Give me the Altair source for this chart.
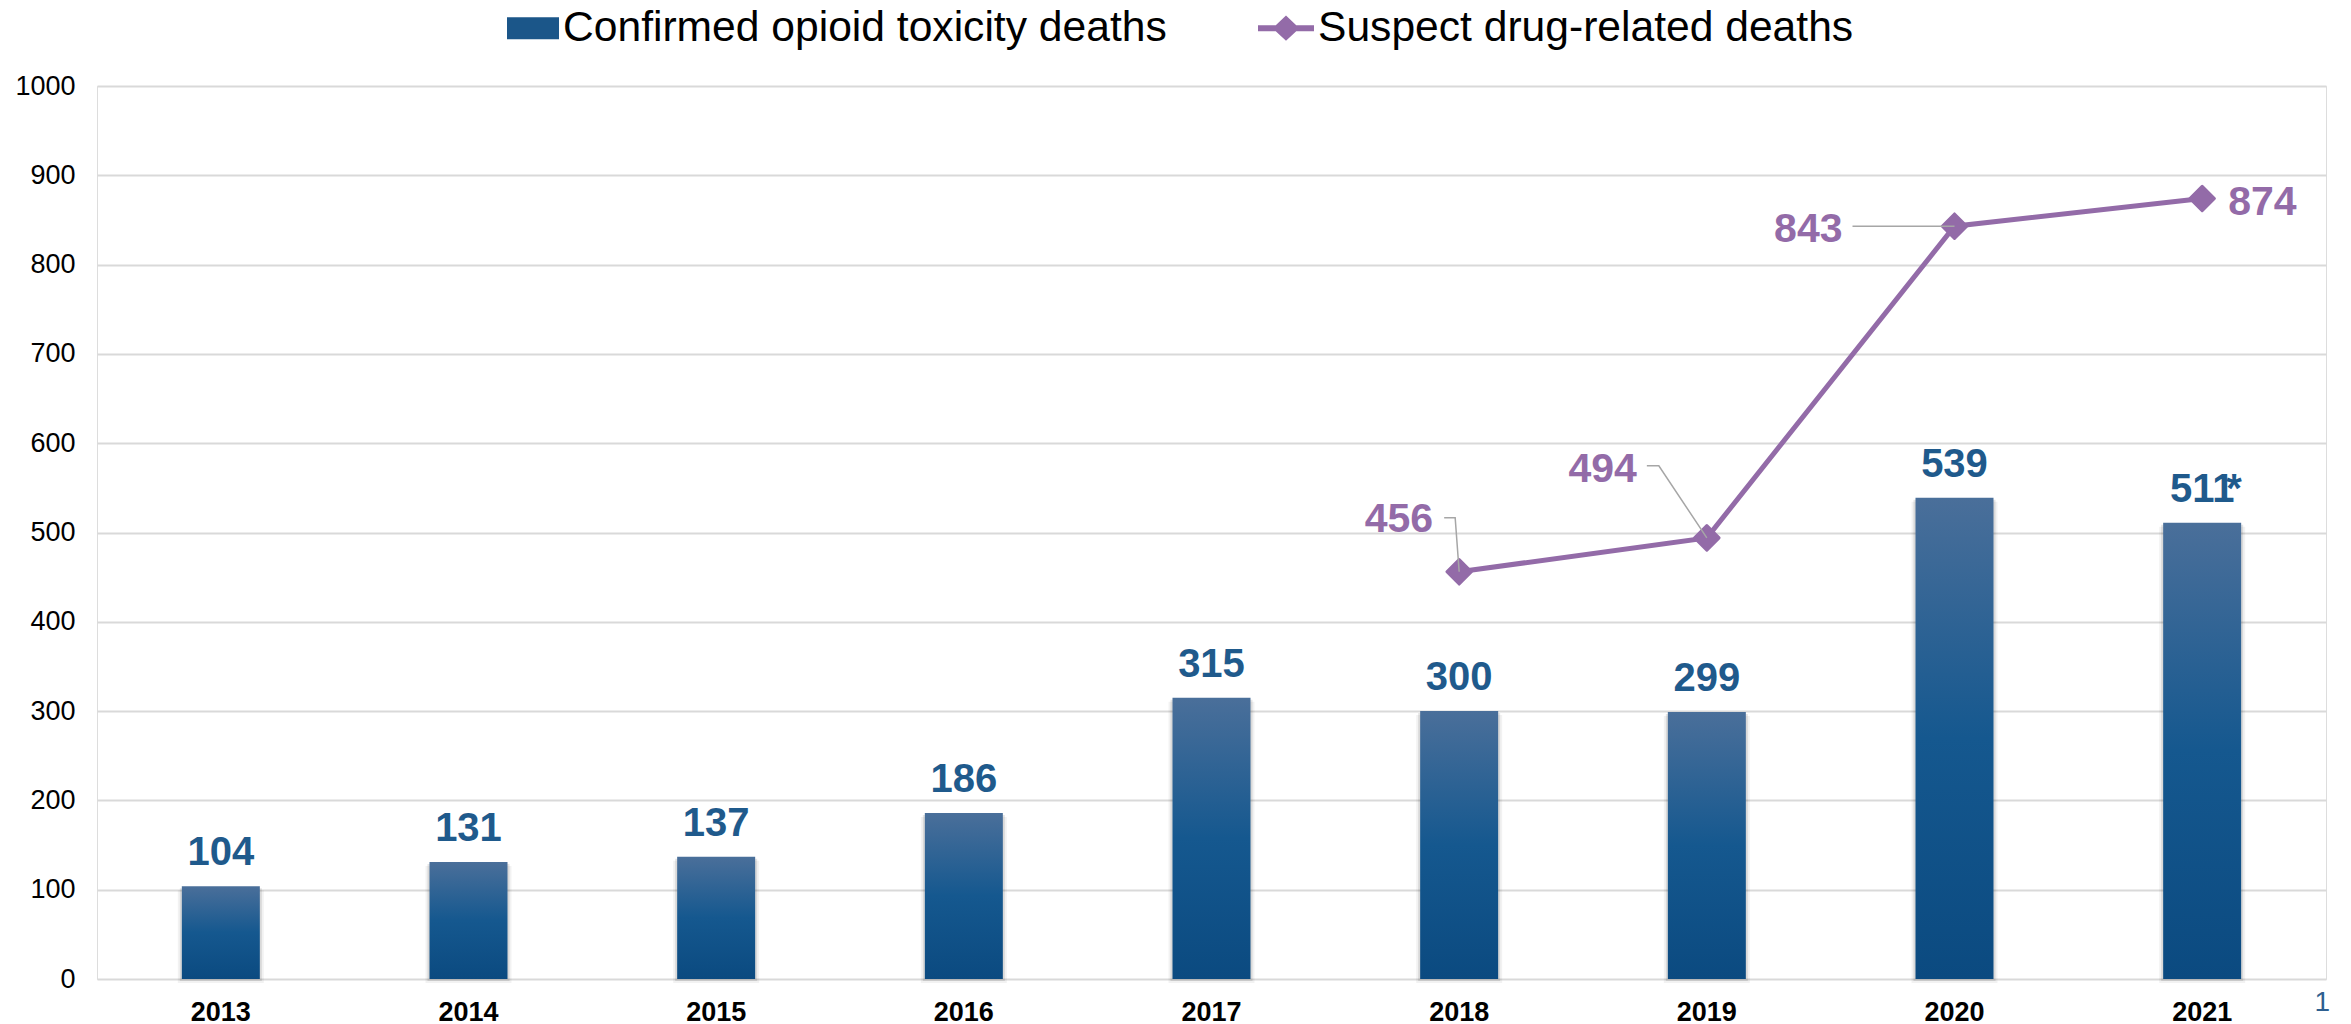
import altair as alt
import pandas as pd

# ---------------- data ----------------
years = ["2013", "2014", "2015", "2016", "2017", "2018", "2019", "2020", "2021"]
confirmed = [104, 131, 137, 186, 315, 300, 299, 539, 511]
confirmed_notes = ["", "", "", "", "", "", "", "", "*"]
suspect_years = ["2018", "2019", "2020", "2021"]
suspect = [456, 494, 843, 874]
series_names = ["Confirmed opioid toxicity deaths", "Suspect drug-related deaths"]
y_ticks = [0, 100, 200, 300, 400, 500, 600, 700, 800, 900, 1000]
page_number = "1"

# ---------------- styles / layout ----------------
W, H = 2229, 893
STEP = W / len(years)
PXY = H / 1000.0
FONT = "Liberation Sans"
BLUE_LABEL = "#1F5A8C"
PURPLE = "#936BA8"
GRID = "#D9D9D9"
LEADER = "#A6A6A6"

# pixel offsets of the suspect-series labels (centre) relative to their point
label_dx = [-26, -70, -112, 26]
label_dy = [-54, -70, 2, 2]
label_align = ["right", "right", "right", "left"]
# leader line vertices, pixel offsets relative to the point
leader_px = [[(-15, -54), (-4, -54), (0, 0)],
             [(-60, -72), (-48, -72), (0, 0)],
             [(-102, 0), (0, 0)],
             []]

bars_df = pd.DataFrame({"year": years, "value": confirmed, "note": confirmed_notes})
line_df = pd.DataFrame({"year": suspect_years, "value": suspect})

lab_rows = []
lead_rows = []
for i, (yr, v) in enumerate(zip(suspect_years, suspect)):
    cx = years.index(yr) + 0.5
    lab_rows.append({"px": cx + label_dx[i] / STEP, "py": v - label_dy[i] / PXY,
                     "label": str(v), "align": label_align[i]})
    for k, (dx, dy) in enumerate(leader_px[i]):
        lead_rows.append({"lid": yr, "k": k, "px": cx + dx / STEP, "py": v - dy / PXY})
lab_df = pd.DataFrame(lab_rows)
lead_df = pd.DataFrame(lead_rows)
legend_df = pd.DataFrame({"series": series_names})

# ---------------- encodings ----------------
x_axis = alt.Axis(title=None, labelAngle=0, labelFont=FONT, labelFontSize=27,
                  labelFontWeight="bold", labelColor="#000000", labelPadding=20,
                  ticks=False, domain=False, grid=False)
x_scale = alt.Scale(domain=years, paddingInner=0.685, paddingOuter=0.3425)
y_axis = alt.Axis(title=None, values=y_ticks, format="d", labelFont=FONT, labelFontSize=27,
                  labelColor="#000000", labelPadding=22, ticks=False, domain=False,
                  grid=True, gridColor=GRID, gridWidth=2)
y_scale = alt.Scale(domain=[0, 1000], nice=False, zero=True)


def xb():
    return alt.X("year:N", scale=x_scale, axis=x_axis, sort=years)


def yv(field="value"):
    return alt.Y(f"{field}:Q", scale=y_scale, axis=y_axis)


xq_scale = alt.Scale(domain=[0, len(years)], nice=False, zero=False)


def xq():
    return alt.X("px:Q", scale=xq_scale, axis=None)


bar_gradient = alt.Gradient(
    gradient="linear",
    stops=[alt.GradientStop(color="#4A6F9A", offset=0),
           alt.GradientStop(color="#15588F", offset=0.5),
           alt.GradientStop(color="#0B4A80", offset=1)],
    x1=0, x2=0, y1=0, y2=1,
)

shadow1 = alt.Chart(bars_df).mark_bar(size=86, color="#000000", opacity=0.05, yOffset=4).encode(x=xb(), y=yv())
shadow2 = alt.Chart(bars_df).mark_bar(size=82, color="#000000", opacity=0.10, yOffset=2).encode(x=xb(), y=yv())
bars = alt.Chart(bars_df).mark_bar(size=78, color=bar_gradient).encode(x=xb(), y=yv())

bar_labels = alt.Chart(bars_df).mark_text(
    font=FONT, fontSize=40, fontWeight="bold", color=BLUE_LABEL,
    baseline="alphabetic", dy=-21,
).encode(x=xb(), y=yv(), text=alt.Text("value:Q"))

bar_notes = alt.Chart(bars_df).transform_filter("datum.note != ''").mark_text(
    font=FONT, fontSize=40, fontWeight="bold", color=BLUE_LABEL,
    baseline="alphabetic", align="left", dx=24, dy=-21,
).encode(x=xb(), y=yv(), text="note:N")

line = alt.Chart(line_df).mark_line(color=PURPLE, strokeWidth=5).encode(x=xb(), y=yv())
points = alt.Chart(line_df).mark_point(
    shape="diamond", filled=True, size=600, color=PURPLE, opacity=1,
    stroke=PURPLE, strokeWidth=3, strokeJoin="round",
).encode(x=xb(), y=yv())

base = alt.layer(shadow1, shadow2, bars, bar_labels, bar_notes, line, points)

leaders = alt.Chart(lead_df).mark_line(color=LEADER, strokeWidth=1.5).encode(
    x=xq(), y=yv("py"), detail="lid:N", order="k:Q")

lab_right = alt.Chart(lab_df).transform_filter("datum.align == 'right'").mark_text(
    font=FONT, fontSize=41, fontWeight="bold", color=PURPLE, align="right",
    baseline="middle", dy=2,
).encode(x=xq(), y=yv("py"), text="label:N")

lab_left = alt.Chart(lab_df).transform_filter("datum.align == 'left'").mark_text(
    font=FONT, fontSize=41, fontWeight="bold", color=PURPLE, align="left",
    baseline="middle", dy=2,
).encode(x=xq(), y=yv("py"), text="label:N")

square_path = "M-0.857,-0.393L1,-0.393L1,0.393L-0.857,0.393Z"
line_diamond_path = ("M-1,-0.107L-0.366,-0.107L0,-0.45L0.366,-0.107L1,-0.107L1,0.107"
                     "L0.366,0.107L0,0.45L-0.366,0.107L-1,0.107Z")

legend = alt.Legend(
    title=None, orient="none", legendX=406, legendY=-86, direction="horizontal",
    columns=2, labelFont=FONT, labelFontSize=42.6, labelColor="#000000",
    labelLimit=2000, symbolSize=3136, symbolStrokeWidth=0, symbolOpacity=1,
    columnPadding=91, labelOffset=4, padding=0,
)
legend_layer = alt.Chart(legend_df).transform_filter("false").mark_point(
    filled=True, opacity=1, size=100,
).encode(
    color=alt.Color("series:N", scale=alt.Scale(domain=series_names, range=["#1B5689", PURPLE]),
                    legend=legend),
    shape=alt.Shape("series:N", scale=alt.Scale(domain=series_names,
                                                range=[square_path, line_diamond_path]),
                    legend=legend),
)

overlay = alt.layer(leaders, lab_right, lab_left, legend_layer)

chart = alt.layer(base, overlay).resolve_scale(x="independent").properties(
    width=W, height=H,
    padding={"left": 89, "top": 78, "right": 17, "bottom": 44},
    autosize=alt.AutoSizeParams(type="none"),
    title=alt.TitleParams(page_number, orient="bottom", anchor="end", frame="group",
                          font=FONT, fontSize=28, fontWeight="normal", color="#2E5F90",
                          dy=-40, dx=4),
).configure_view(stroke=None).configure(background="white")

chart.save("out.html", embed_options={"renderer": "svg", "actions": False})
